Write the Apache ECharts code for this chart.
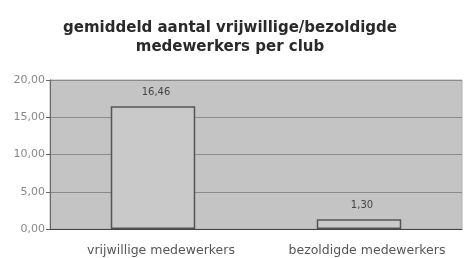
<!DOCTYPE html>
<html><head><meta charset="utf-8">
<script src="https://cdn.jsdelivr.net/npm/echarts@6/dist/echarts.min.js"></script>
<style>html,body{margin:0;padding:0;background:#fff}#c{width:467px;height:258px}</style>
</head><body><div id="c"></div>
<script>
var categories = ['vrijwillige medewerkers', 'bezoldigde medewerkers'];
var values = [16.46, 1.30];
var titleText = 'gemiddeld aantal vrijwillige/bezoldigde\nmedewerkers per club';

var chart = echarts.init(document.getElementById('c'), null, {renderer: 'canvas'});
function fmt(v){ return v.toFixed(2).replace('.', ','); }
chart.setOption({
  animation: false,
  backgroundColor: '#fff',
  title: {
    text: titleText, left: 225, top: 14, textAlign: 'center',
    textStyle: {fontFamily: 'DejaVu Sans', fontWeight: 'bold', fontSize: 15, color: '#2a2a2a', lineHeight: 19}
  },
  grid: {left: 50, right: 5, top: 80, bottom: 29, show: true, backgroundColor: '#c4c4c4', borderColor: '#b0b0b0', borderWidth: 1},
  xAxis: {
    type: 'category', data: categories,
    axisLine: {show: true, lineStyle: {color: '#444'}},
    axisTick: {show: false},
    axisLabel: {fontFamily: 'DejaVu Sans', fontSize: 12.5, color: '#555', margin: 15, padding: [0, 0, 0, 16]}
  },
  yAxis: {
    type: 'value', min: 0, max: 20, interval: 5,
    axisLine: {show: true, lineStyle: {color: '#666'}},
    axisTick: {show: true, length: 4, lineStyle: {color: '#666'}},
    splitLine: {lineStyle: {color: '#8a8a8a', width: 1}},
    axisLabel: {fontFamily: 'DejaVu Sans', fontSize: 11, color: '#888', margin: 5, formatter: fmt}
  },
  series: [{
    type: 'bar', data: values, barWidth: '41%',
    itemStyle: {color: '#c9c9c9', borderColor: '#555', borderWidth: 1.5},
    label: {show: true, position: 'top', distance: 9, offset: [3, 0], fontFamily: 'DejaVu Sans', fontSize: 10, color: '#444', formatter: function(p){ return fmt(p.value); }}
  }]
});
</script></body></html>
